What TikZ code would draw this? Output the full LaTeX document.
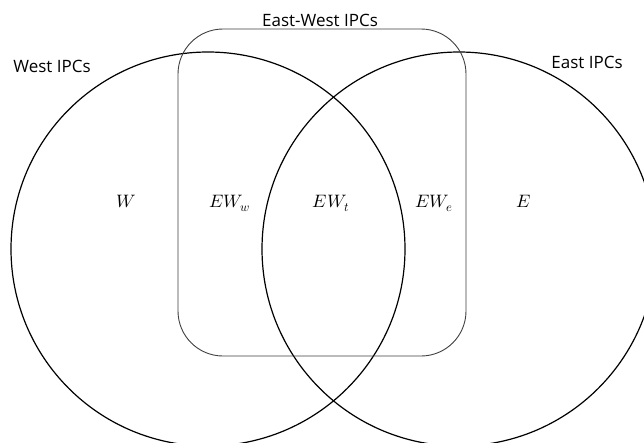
\documentclass[tikz,border=0pt]{standalone}
\usepackage{fontspec}
\setmainfont{Open Sans}
\usepackage{unicode-math}
\begin{document}
\begin{tikzpicture}[x=1pt,y=-1pt,
  setcircle/.style={circle,draw=black,line width=1.2pt,minimum size=394pt,inner sep=0pt},
  setbox/.style={rectangle,draw=black!75,line width=0.9pt,rounded corners=45pt,minimum width=288pt,minimum height=327pt,inner sep=0pt},
  setlabel/.style={anchor=base,inner sep=0pt,font=\fontsize{17}{19}\selectfont},
  region/.style={anchor=base,inner sep=0pt,font=\fontsize{18}{20}\selectfont}]
\useasboundingbox (0,0) rectangle (644,442);
\clip (0,0) rectangle (644,442);
\fill[white] (0,0) rectangle (644,442);
\node[setcircle] (west) at (208,249) {};
\node[setcircle] (east) at (459,249) {};
\node[setbox] (ew) at (322,192.5) {};
\node[setlabel] (ewlab) at (320,26) {East-West IPCs};
\node[setlabel] (wlab) at (52,72) {West IPCs};
\node[setlabel] (elab) at (587,68) {East IPCs};
\node[region] (W) at (126,207) {$W$};
\node[region] (EWw) at (230,207) {$EW_w$};
\node[region] (EWt) at (331,207) {$EW_t$};
\node[region] (EWe) at (434,207) {$EW_e$};
\node[region] (E) at (524,207) {$E$};
\end{tikzpicture}
\end{document}
